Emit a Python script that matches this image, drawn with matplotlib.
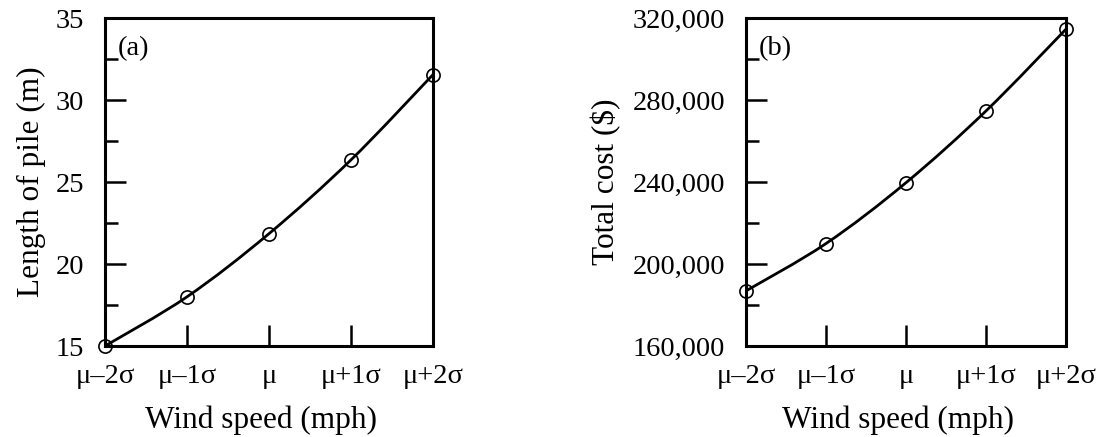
import matplotlib
matplotlib.use("Agg")
import matplotlib.pyplot as plt
from matplotlib.path import Path
from matplotlib.patches import PathPatch
from matplotlib.ticker import FuncFormatter, MultipleLocator

plt.rcParams['font.family'] = ['Liberation Serif', 'DejaVu Serif']

# data
wind_labels = ["μ–2σ", "μ–1σ", "μ", "μ+1σ", "μ+2σ"]
wind_pos = [0, 1, 2, 3, 4]
pile_length = [15.0, 18.0, 21.85, 26.35, 31.55]
total_cost = [186900, 210000, 239700, 274700, 314600]


def smooth_path(x, y):
    # catmull-rom through the points, as cubic bezier segments
    n = len(x)
    verts = [(x[0], y[0])]
    codes = [Path.MOVETO]
    for i in range(n - 1):
        a = max(i - 1, 0)
        d = min(i + 2, n - 1)
        c1 = (x[i] + (x[i + 1] - x[a]) / 6, y[i] + (y[i + 1] - y[a]) / 6)
        c2 = (x[i + 1] - (x[d] - x[i]) / 6, y[i + 1] - (y[d] - y[i]) / 6)
        verts += [c1, c2, (x[i + 1], y[i + 1])]
        codes += [Path.CURVE4] * 3
    return Path(verts, codes)


def draw_panel(ax, y, ylim, major, minor, ylabel, tag, ylpad, fmt=None):
    ax.add_patch(PathPatch(smooth_path(wind_pos, y), fill=False, lw=2.0,
                           color='black', clip_on=False))
    ax.plot(wind_pos, y, 'o', ms=9.5, mfc='none', mec='black', mew=1.2,
            clip_on=False, zorder=3)
    ax.set_xlim(0, 4)
    ax.set_ylim(*ylim)
    ax.set_xticks(wind_pos)
    ax.set_xticklabels(wind_labels)
    ax.yaxis.set_major_locator(MultipleLocator(major))
    ax.yaxis.set_minor_locator(MultipleLocator(minor))
    if fmt:
        ax.yaxis.set_major_formatter(FuncFormatter(fmt))
    ax.tick_params(which='major', direction='in', length=15, width=1.8,
                   labelsize=20.5)
    ax.tick_params(axis='y', which='major', pad=15)
    ax.tick_params(axis='x', which='major', pad=13)
    ax.tick_params(which='minor', direction='in', length=9.5, width=1.8)
    ax.tick_params(axis='x', which='minor', bottom=False)
    for s in ax.spines.values():
        s.set_linewidth(2.2)
    ax.set_xlabel("Wind speed (mph)", fontsize=22.5, labelpad=12, x=0.475)
    ax.set_ylabel(ylabel, fontsize=22.5, labelpad=ylpad)
    ax.text(0.04, 0.945, tag, transform=ax.transAxes, fontsize=20.5,
            va='top', ha='left')


fig = plt.figure(figsize=(11.12, 4.37), dpi=100)
ax1 = fig.add_axes([0.0944, 0.2082, 0.295, 0.7506])
ax2 = fig.add_axes([0.6709, 0.2082, 0.2878, 0.7506])

draw_panel(ax1, pile_length, (15, 35), 5, 2.5, "Length of pile (m)", "(a)", 7)
draw_panel(ax2, total_cost, (160000, 320000), 40000, 20000, "Total cost ($)", "(b)", 8,
           fmt=lambda v, p: f"{int(v):,}")

fig.savefig("out.png", dpi=100)
